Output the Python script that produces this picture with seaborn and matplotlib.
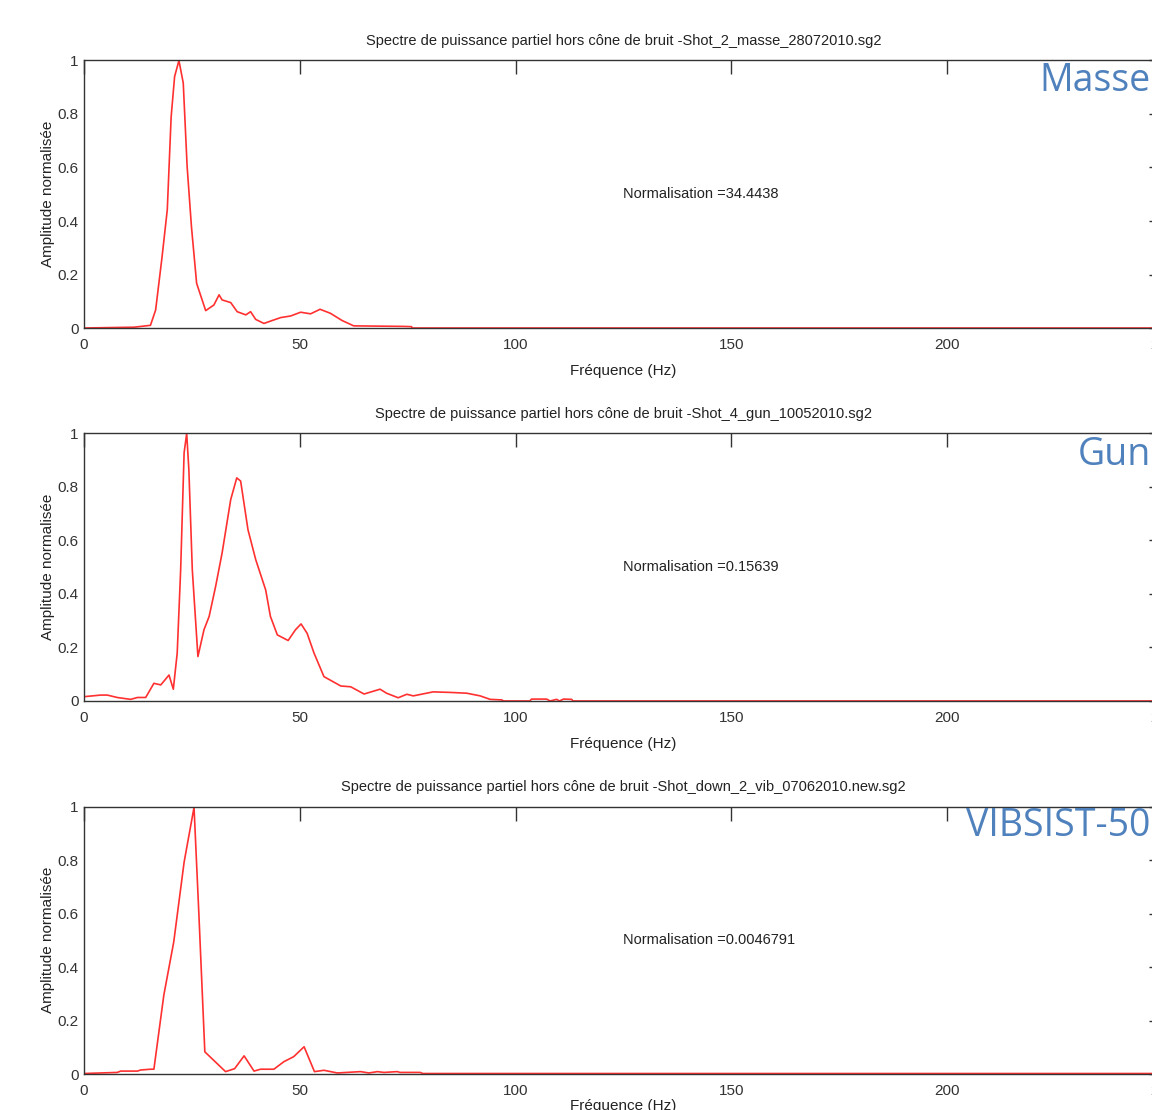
import matplotlib
matplotlib.use("Agg")
import numpy as np
import pandas as pd
import matplotlib.pyplot as plt
import seaborn as sns

# Spectra (normalised amplitude vs frequency in Hz)
freq_masse = [0, 11.6, 15.4, 16.6, 18.1, 19.3, 20.2, 21.0, 22.0, 23.0, 23.9, 24.9, 26.1,
              28.2, 30.1, 31.3, 32.0, 34.0, 35.5, 37.5, 38.6, 39.8, 41.7, 43.6, 45.6,
              47.9, 50.2, 52.5, 54.7, 57.1, 59.8, 62.5, 74.1, 75.9, 76.0, 250]
amp_masse = [0, 0.003, 0.01, 0.067, 0.267, 0.442, 0.79, 0.94, 1.0, 0.916, 0.604, 0.379, 0.167,
             0.065, 0.086, 0.124, 0.105, 0.095, 0.061, 0.049, 0.061, 0.032, 0.017, 0.028, 0.039,
             0.045, 0.059, 0.053, 0.070, 0.055, 0.028, 0.008, 0.006, 0.005, 0, 0]

freq_gun = [0, 3.9, 5.4, 7.7, 10.8, 12.4, 14.3, 16.2, 17.8, 19.7, 20.7, 21.6, 22.4, 23.2,
            23.8, 24.3, 25.1, 26.4, 27.8, 29.0, 30.5, 32.0, 34.0, 35.4, 36.3, 38.0, 39.8,
            42.1, 43.2, 44.8, 47.3, 49.0, 50.3, 51.7, 53.3, 55.6, 59.5, 61.8, 64.9, 68.6,
            70.1, 72.8, 74.8, 76.3, 80.9, 84.8, 88.7, 91.8, 94.1, 96.8, 97.2, 103.3, 103.7,
            107.2, 108.0, 109.5, 110.2, 111.1, 113.0, 113.3, 250]
amp_gun = [0.016, 0.022, 0.022, 0.013, 0.006, 0.013, 0.013, 0.066, 0.060, 0.097, 0.044, 0.179,
           0.49, 0.928, 1.0, 0.865, 0.49, 0.166, 0.266, 0.316, 0.428, 0.553, 0.753, 0.834,
           0.822, 0.640, 0.528, 0.415, 0.316, 0.247, 0.226, 0.266, 0.288, 0.253, 0.179, 0.091,
           0.056, 0.053, 0.026, 0.044, 0.029, 0.012, 0.025, 0.019, 0.034, 0.032, 0.029, 0.019,
           0.006, 0.004, 0, 0, 0.007, 0.007, 0, 0.006, 0, 0.007, 0.006, 0, 0]

freq_vib = [0, 7.7, 8.5, 12.4, 13.1, 15.4, 16.2, 18.5, 20.8, 23.2, 25.5, 26.6, 28.0, 32.8,
            34.9, 37.1, 39.4, 40.9, 44.0, 46.3, 48.6, 51.0, 53.4, 55.6, 58.7, 64.1, 66.0,
            68.0, 69.5, 72.6, 73.2, 77.9, 78.5, 250]
amp_vib = [0.002, 0.006, 0.011, 0.011, 0.015, 0.018, 0.018, 0.295, 0.494, 0.792, 0.997, 0.606,
           0.083, 0.009, 0.020, 0.068, 0.011, 0.018, 0.018, 0.046, 0.065, 0.102, 0.009, 0.014,
           0.004, 0.009, 0.004, 0.009, 0.006, 0.009, 0.006, 0.006, 0.002, 0.002]

titles = [
    "Spectre de puissance partiel hors cône de bruit -Shot_2_masse_28072010.sg2",
    "Spectre de puissance partiel hors cône de bruit -Shot_4_gun_10052010.sg2",
    "Spectre de puissance partiel hors cône de bruit -Shot_down_2_vib_07062010.new.sg2",
]
norm_labels = ["Normalisation =34.4438", "Normalisation =0.15639", "Normalisation =0.0046791"]
source_names = ["Masse", "Gun", "VIBSIST-50"]
x_ticks = [0, 50, 100, 150, 200, 250]
y_ticks = [0, 0.2, 0.4, 0.6, 0.8, 1]
y_ticklabels = ["0", "0.2", "0.4", "0.6", "0.8", "1"]

sns.set_style("white")
plt.rcParams["font.family"] = ["Liberation Sans", "DejaVu Sans"]

fig = plt.figure(figsize=(11.52, 11.10), dpi=100)

panels = [(freq_masse, amp_masse), (freq_gun, amp_gun), (freq_vib, amp_vib)]
bottoms = [0.7045, 0.3685, 0.0324]
name_y = [0.927, 0.590, 0.256]
xlabel_pads = [9, 9, 1]
fs = 10.5

for i, (f, a) in enumerate(panels):
    ax = fig.add_axes([0.0729, bottoms[i], 0.9366, 0.2410])
    df = pd.DataFrame({"freq": f, "amp": a})
    sns.lineplot(data=df, x="freq", y="amp", ax=ax, color="#ff3030", lw=1.2,
                 estimator=None, sort=False)
    ax.set_xlim(0, 250)
    ax.set_ylim(0, 1)
    ax.set_xticks(x_ticks)
    ax.set_yticks(y_ticks)
    ax.set_yticklabels(y_ticklabels)
    ax.tick_params(direction="in", top=True, right=True, length=10, width=1,
                   color="#333333", labelsize=fs + 0.5, labelcolor="#333333", pad=4)
    ax.tick_params(axis="x", pad=7)
    for sp in ax.spines.values():
        sp.set_color("#333333")
        sp.set_linewidth(1)
    ax.set_title(titles[i], fontsize=fs, color="#222222", pad=11)
    ax.set_xlabel("Fréquence (Hz)", fontsize=fs + 0.5, color="#222222",
                  labelpad=xlabel_pads[i])
    ax.set_ylabel("Amplitude normalisée", fontsize=fs + 0.5, color="#222222", labelpad=2)
    ax.text(125, 0.5, norm_labels[i], fontsize=fs, color="#222222", ha="left", va="center")
    fig.text(0.999, name_y[i], source_names[i], fontsize=27, color="#4f81bd",
             family=["Open Sans", "DejaVu Sans"], ha="right", va="center")

fig.savefig("out.png", dpi=100)
